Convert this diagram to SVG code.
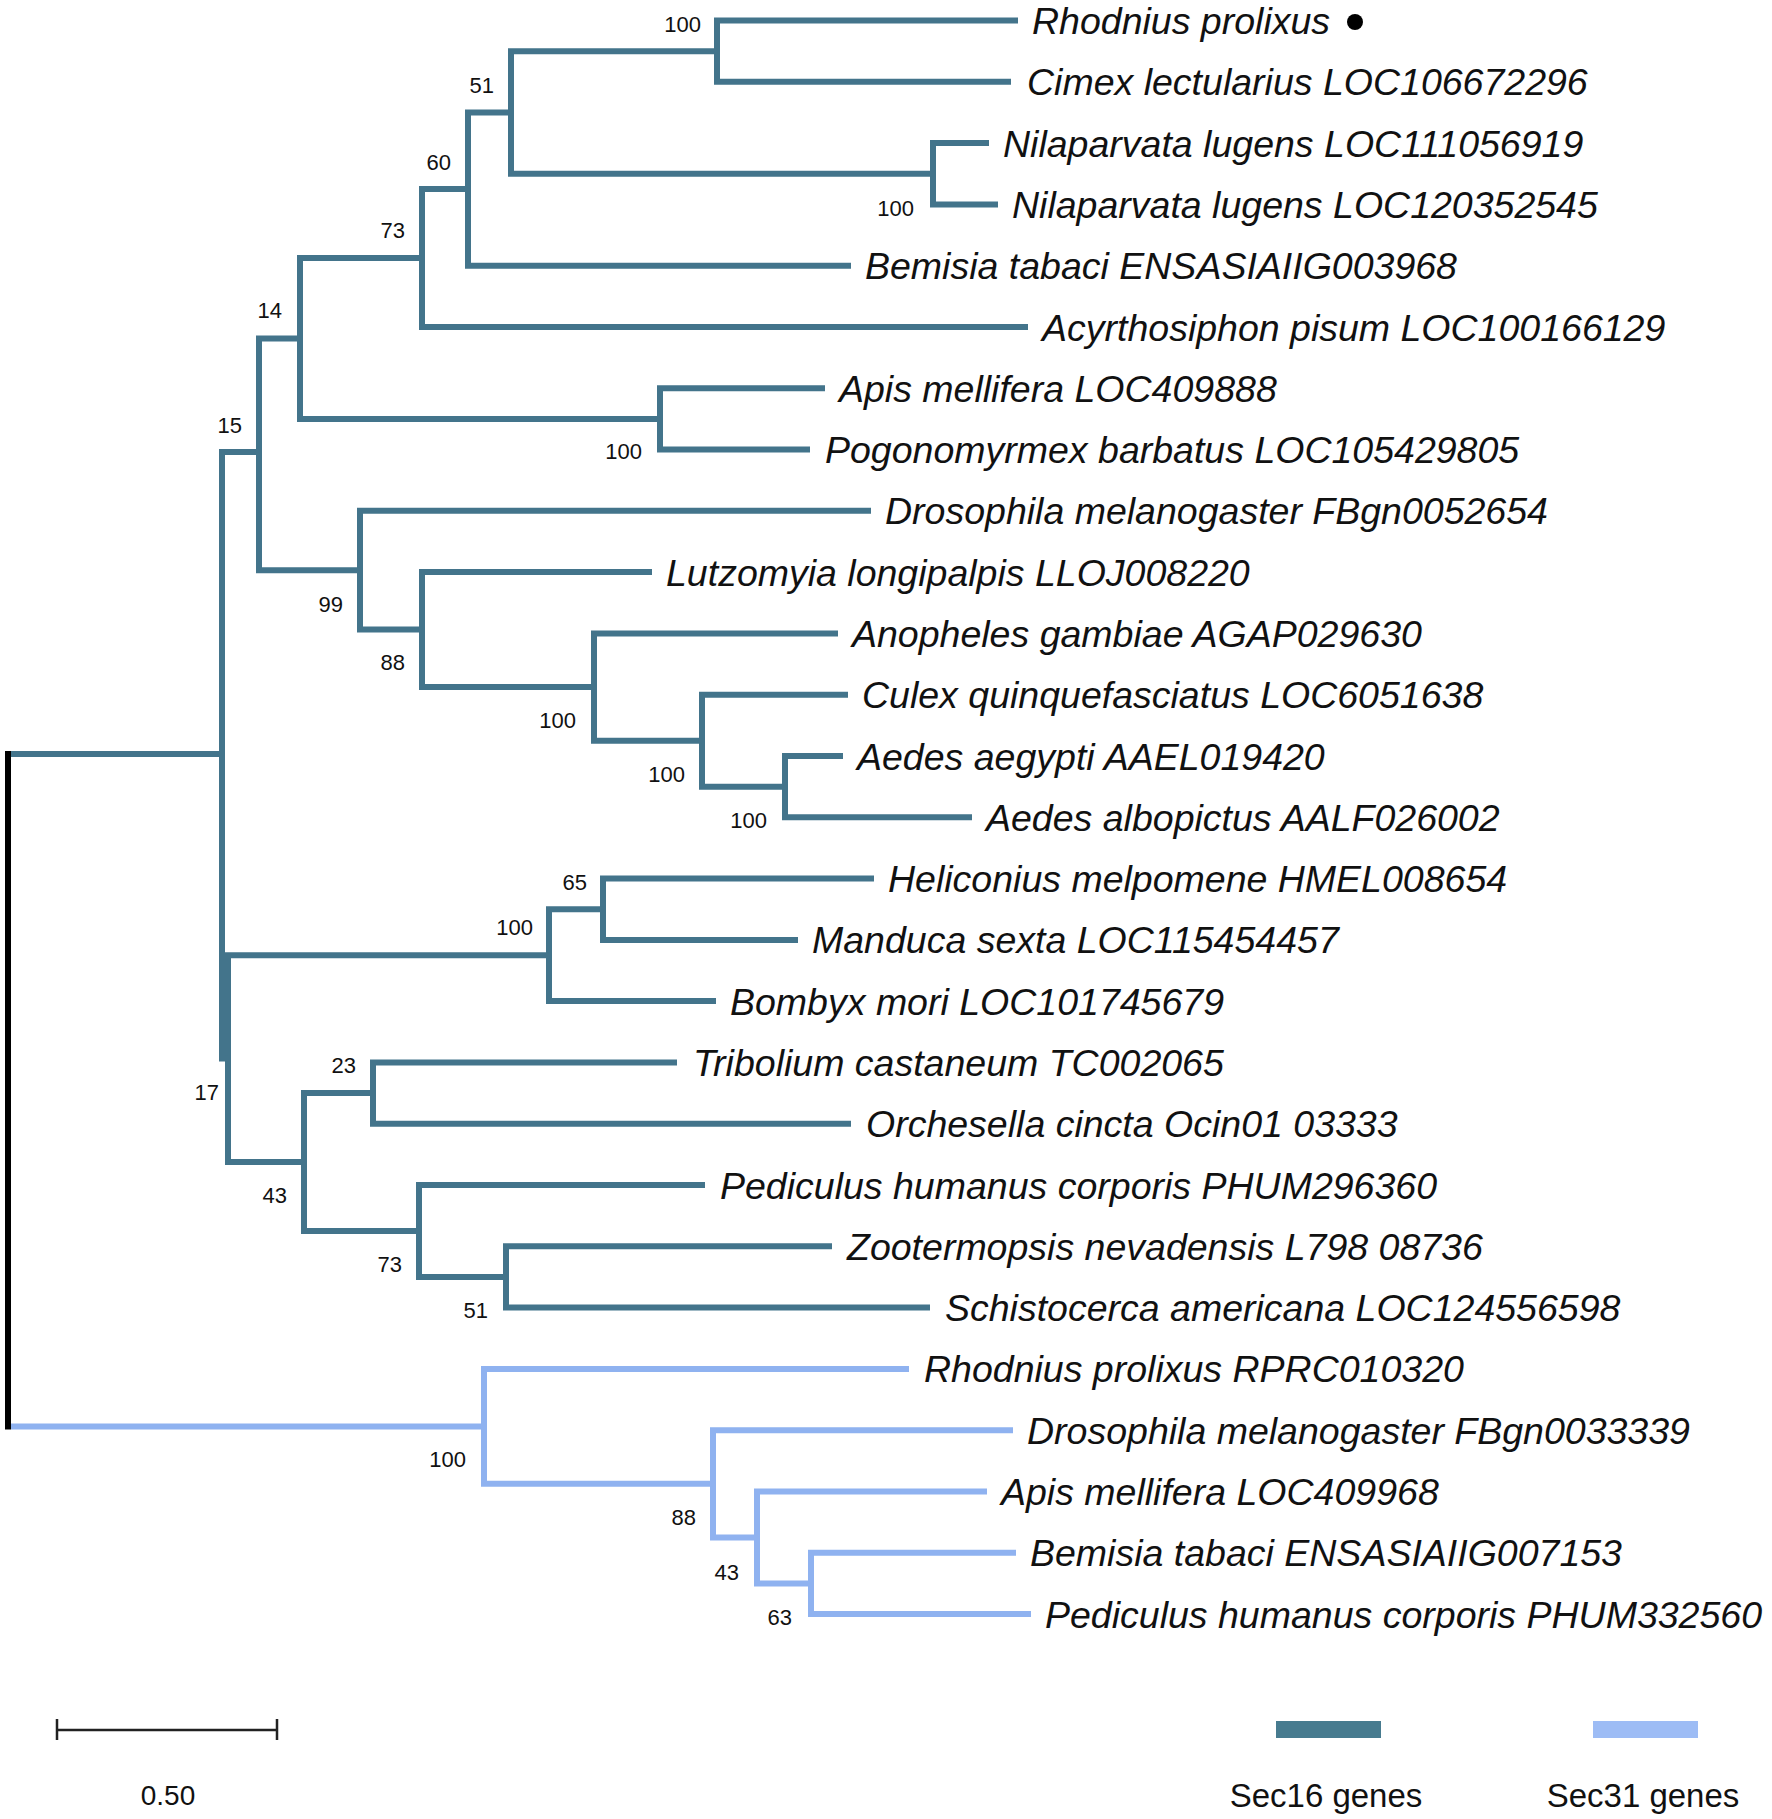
<svg xmlns="http://www.w3.org/2000/svg" width="1772" height="1819" viewBox="0 0 1772 1819">
<style>
.b16{fill:none;stroke:#43748b;stroke-width:6;stroke-linejoin:miter;stroke-linecap:butt}
.b31{fill:none;stroke:#8fb2f0;stroke-width:6;stroke-linejoin:miter;stroke-linecap:butt}
.taxon{font-family:"Liberation Sans",Arial,sans-serif;font-style:italic;font-size:37.5px;fill:#111}
.bs{font-family:"Liberation Sans",Arial,sans-serif;font-size:22px;fill:#111;text-anchor:end}
.leg{font-family:"Liberation Sans",Arial,sans-serif;font-size:33px;fill:#111;text-anchor:middle}
</style>
<rect width="1772" height="1819" fill="#ffffff"/>
<g id="connectors">
  <g id="sec16-branches">
    <path class="b16" d="M 1018 20.5 H 717 V 81.8 H 1011"/>
    <path class="b16" d="M 989 143.1 H 933 V 204.4 H 998"/>
    <path class="b16" d="M 717 51.2 H 511 V 173.8 H 933"/>
    <path class="b16" d="M 511 112.5 H 468 V 265.7 H 851"/>
    <path class="b16" d="M 468 189.1 H 422 V 327 H 1028"/>
    <path class="b16" d="M 825 388.2 H 660 V 449.5 H 810"/>
    <path class="b16" d="M 422 258 H 300 V 418.9 H 660"/>
    <path class="b16" d="M 843 756 H 785 V 817.3 H 972"/>
    <path class="b16" d="M 848 694.7 H 702 V 786.7 H 785"/>
    <path class="b16" d="M 838 633.4 H 594 V 740.7 H 702"/>
    <path class="b16" d="M 652 572.1 H 422 V 687 H 594"/>
    <path class="b16" d="M 871 510.8 H 360 V 629.6 H 422"/>
    <path class="b16" d="M 300 338.4 H 259 V 570.2 H 360"/>
    <path class="b16" d="M 874 878.6 H 603 V 939.9 H 798"/>
    <path class="b16" d="M 603 909.3 H 549 V 1001.1 H 716"/>
    <path class="b16" d="M 677 1062.4 H 373 V 1123.7 H 851"/>
    <path class="b16" d="M 832 1246.3 H 506 V 1307.6 H 930"/>
    <path class="b16" d="M 705 1185 H 419 V 1277 H 506"/>
    <path class="b16" d="M 373 1093 H 304 V 1231 H 419"/>
    <path class="b16" d="M 549 955.2 H 228 V 1162 H 304"/>
    <path class="b16" d="M 259 452 H 222 V 1058.6 H 228"/>
    <path class="b16" d="M 11 754 H 222"/>
  </g>
  <g id="sec31-branches">
    <path class="b31" d="M 1016 1552.8 H 811 V 1614 H 1031"/>
    <path class="b31" d="M 987 1491.5 H 757 V 1583.4 H 811"/>
    <path class="b31" d="M 1013 1430.2 H 713 V 1537.5 H 757"/>
    <path class="b31" d="M 909 1368.9 H 484 V 1483.8 H 713"/>
    <path class="b31" d="M 11 1426.4 H 484"/>
  </g>
  <path id="root" d="M 8 751 V 1429.5" fill="none" stroke="#000" stroke-width="6"/>
</g>
<g id="taxa">
  <g id="t0"><text class="taxon" x="1032" y="34">Rhodnius prolixus</text><circle cx="1355" cy="22" r="8" fill="#000"/></g>
  <g id="t1"><text class="taxon" x="1027" y="95.3">Cimex lectularius LOC106672296</text></g>
  <g id="t2"><text class="taxon" x="1003" y="156.6">Nilaparvata lugens LOC111056919</text></g>
  <g id="t3"><text class="taxon" x="1012" y="217.9">Nilaparvata lugens LOC120352545</text></g>
  <g id="t4"><text class="taxon" x="865" y="279.2">Bemisia tabaci ENSASIAIIG003968</text></g>
  <g id="t5"><text class="taxon" x="1042" y="340.5">Acyrthosiphon pisum LOC100166129</text></g>
  <g id="t6"><text class="taxon" x="839" y="401.7">Apis mellifera LOC409888</text></g>
  <g id="t7"><text class="taxon" x="825" y="463">Pogonomyrmex barbatus LOC105429805</text></g>
  <g id="t8"><text class="taxon" x="885" y="524.3">Drosophila melanogaster FBgn0052654</text></g>
  <g id="t9"><text class="taxon" x="666" y="585.6">Lutzomyia longipalpis LLOJ008220</text></g>
  <g id="t10"><text class="taxon" x="852" y="646.9">Anopheles gambiae AGAP029630</text></g>
  <g id="t11"><text class="taxon" x="862" y="708.2">Culex quinquefasciatus LOC6051638</text></g>
  <g id="t12"><text class="taxon" x="857" y="769.5">Aedes aegypti AAEL019420</text></g>
  <g id="t13"><text class="taxon" x="986" y="830.8">Aedes albopictus AALF026002</text></g>
  <g id="t14"><text class="taxon" x="888" y="892.1">Heliconius melpomene HMEL008654</text></g>
  <g id="t15"><text class="taxon" x="812" y="953.4">Manduca sexta LOC115454457</text></g>
  <g id="t16"><text class="taxon" x="730" y="1014.6">Bombyx mori LOC101745679</text></g>
  <g id="t17"><text class="taxon" x="693" y="1075.9">Tribolium castaneum TC002065</text></g>
  <g id="t18"><text class="taxon" x="866" y="1137.2">Orchesella cincta Ocin01 03333</text></g>
  <g id="t19"><text class="taxon" x="720" y="1198.5">Pediculus humanus corporis PHUM296360</text></g>
  <g id="t20"><text class="taxon" x="847" y="1259.8">Zootermopsis nevadensis L798 08736</text></g>
  <g id="t21"><text class="taxon" x="945" y="1321.1">Schistocerca americana LOC124556598</text></g>
  <g id="t22"><text class="taxon" x="924" y="1382.4">Rhodnius prolixus RPRC010320</text></g>
  <g id="t23"><text class="taxon" x="1027" y="1443.7">Drosophila melanogaster FBgn0033339</text></g>
  <g id="t24"><text class="taxon" x="1001" y="1505">Apis mellifera LOC409968</text></g>
  <g id="t25"><text class="taxon" x="1030" y="1566.3">Bemisia tabaci ENSASIAIIG007153</text></g>
  <g id="t26"><text class="taxon" x="1045" y="1627.5">Pediculus humanus corporis PHUM332560</text></g>
</g>
<g id="support">
  <g id="nA"><text class="bs" x="701" y="32">100</text></g>
  <g id="nB"><text class="bs" x="494" y="93">51</text></g>
  <g id="nC"><text class="bs" x="914" y="216">100</text></g>
  <g id="nD"><text class="bs" x="451" y="170">60</text></g>
  <g id="nE"><text class="bs" x="405" y="238">73</text></g>
  <g id="nF"><text class="bs" x="282" y="318">14</text></g>
  <g id="nG"><text class="bs" x="642" y="459">100</text></g>
  <g id="nH"><text class="bs" x="242" y="433">15</text></g>
  <g id="nI"><text class="bs" x="343" y="612">99</text></g>
  <g id="nJ"><text class="bs" x="405" y="670">88</text></g>
  <g id="nK"><text class="bs" x="576" y="728">100</text></g>
  <g id="nL"><text class="bs" x="685" y="782">100</text></g>
  <g id="nM"><text class="bs" x="767" y="828">100</text></g>
  <g id="nN"><text class="bs" x="587" y="890">65</text></g>
  <g id="nO"><text class="bs" x="533" y="935">100</text></g>
  <g id="nP"><text class="bs" x="219" y="1100">17</text></g>
  <g id="nT"><text class="bs" x="356" y="1073">23</text></g>
  <g id="nQ"><text class="bs" x="287" y="1203">43</text></g>
  <g id="nU"><text class="bs" x="402" y="1272">73</text></g>
  <g id="nV"><text class="bs" x="488" y="1318">51</text></g>
  <g id="nS"><text class="bs" x="466" y="1467">100</text></g>
  <g id="nW"><text class="bs" x="696" y="1525">88</text></g>
  <g id="nX"><text class="bs" x="739" y="1580">43</text></g>
  <g id="nY"><text class="bs" x="792" y="1625">63</text></g>
</g>
<g id="scale-bar">
  <path d="M 57 1730 H 277 M 57 1719 V 1740 M 277 1719 V 1740" fill="none" stroke="#222" stroke-width="2.5"/>
  <text x="168" y="1805" font-family="'Liberation Sans',Arial,sans-serif" font-size="28" fill="#111" text-anchor="middle">0.50</text>
</g>
<g id="legend">
  <g id="legend-sec16"><rect x="1276" y="1721" width="105" height="17" fill="#477b8f"/><text class="leg" x="1326" y="1807">Sec16 genes</text></g>
  <g id="legend-sec31"><rect x="1593" y="1721" width="105" height="17" fill="#9dbcf5"/><text class="leg" x="1643" y="1807">Sec31 genes</text></g>
</g>
</svg>
